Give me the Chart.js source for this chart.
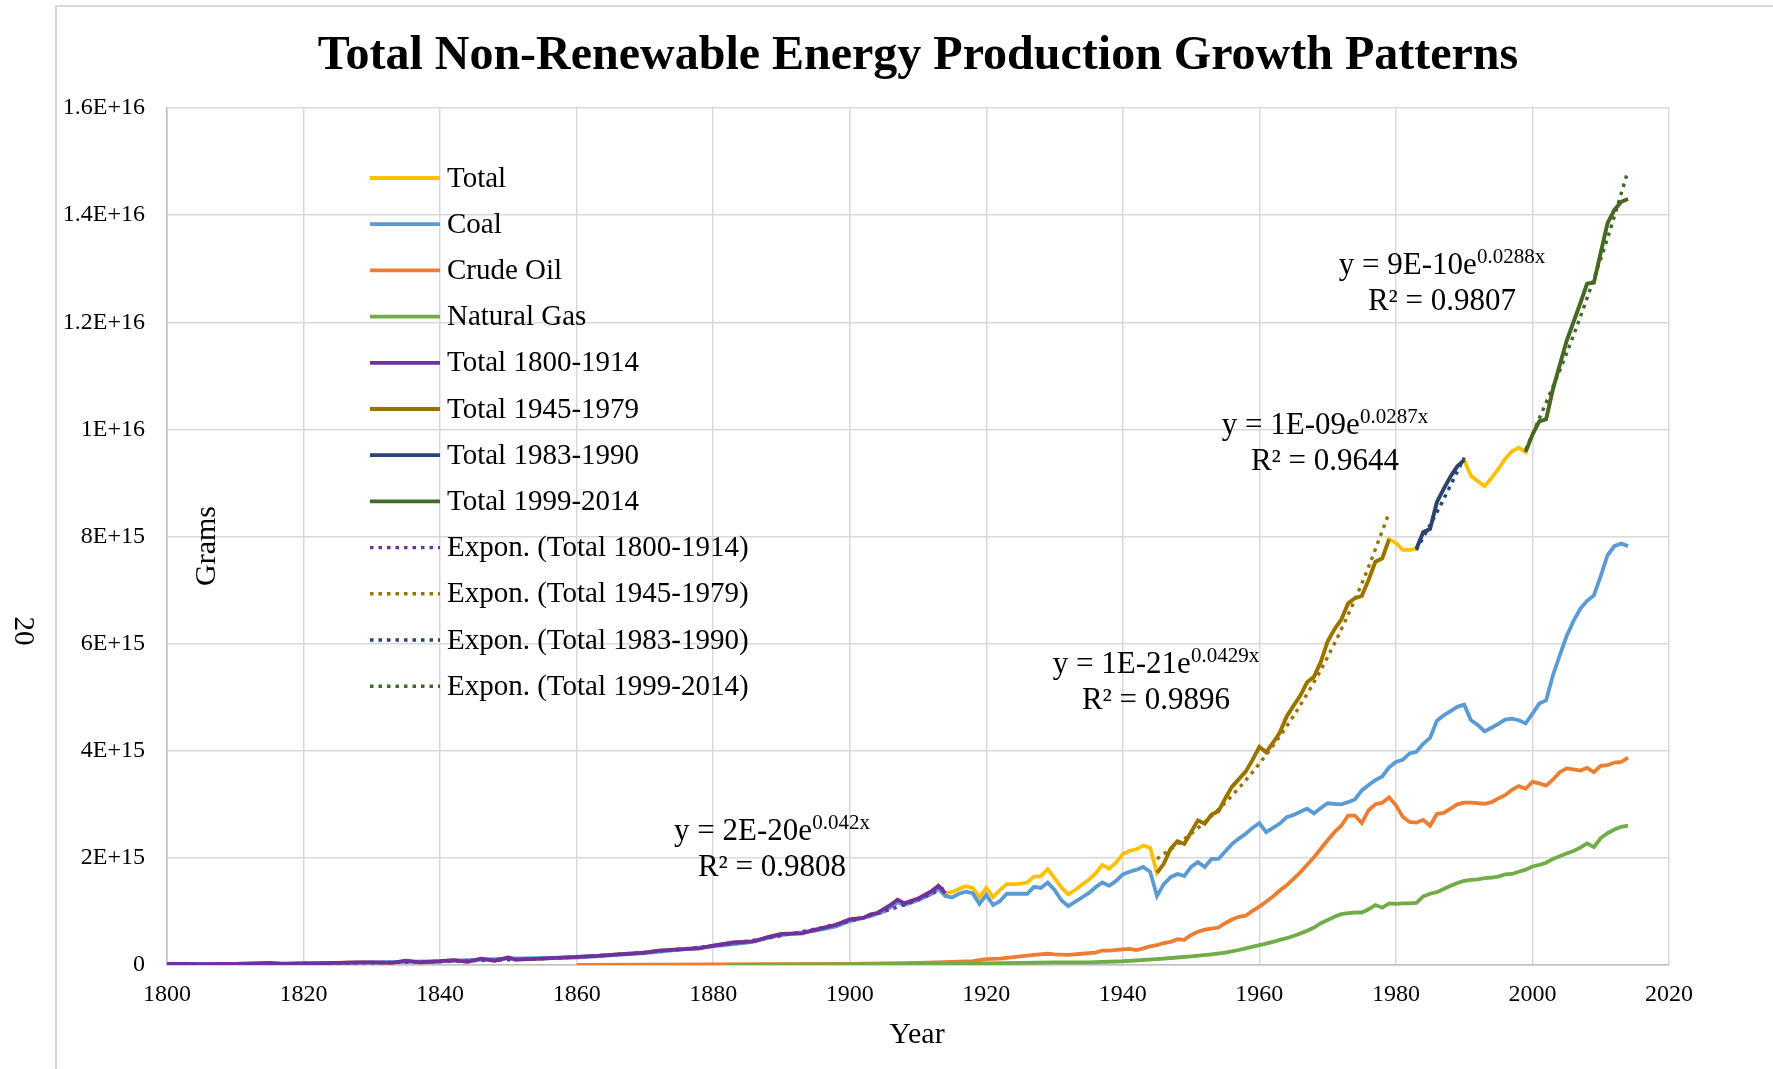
<!DOCTYPE html>
<html lang="en">
<head>
<meta charset="UTF-8">
<title>Total Non-Renewable Energy Production Growth Patterns</title>
<script src="https://cdn.jsdelivr.net/npm/chart.js"></script>
<style>
  html, body { margin: 0; padding: 0; background: #fff; }
  #wrap { position: relative; width: 1773px; height: 1069px; }
</style>
</head>
<body>
<div id="wrap"><canvas id="energyChart"></canvas></div>
<script>
// all values are in units of 1E+15 grams
const earlyYears = [1800, 1803, 1805, 1808, 1810, 1813, 1815, 1817, 1820, 1822, 1825, 1828, 1830, 1833, 1835, 1837,
    1840, 1842, 1844, 1846, 1848, 1850, 1851, 1855, 1860, 1863, 1866, 1870, 1872, 1875, 1878, 1880, 1883, 1886,
    1888, 1890, 1893, 1895, 1898, 1900, 1902, 1903, 1904, 1906, 1907, 1908, 1910, 1912, 1913];
const earlyTotal = [0.02, 0.02, 0.01, 0.02, 0.02, 0.03, 0.04, 0.02, 0.03, 0.03, 0.04, 0.05, 0.05, 0.04, 0.08, 0.05,
    0.07, 0.09, 0.06, 0.12, 0.08, 0.14, 0.10, 0.12, 0.15, 0.17, 0.20, 0.23, 0.27, 0.29, 0.31, 0.36, 0.42, 0.44,
    0.52, 0.58, 0.59, 0.66, 0.75, 0.85, 0.88, 0.94, 0.97, 1.12, 1.22, 1.15, 1.24, 1.38, 1.48];

const annualYears = [1914, 1915, 1916, 1917, 1918, 1919, 1920, 1921, 1922, 1923, 1924, 1925, 1926, 1927, 1928, 1929,
    1930, 1931, 1932, 1933, 1934, 1935, 1936, 1937, 1938, 1939, 1940, 1941, 1942, 1943, 1944, 1945, 1946, 1947,
    1948, 1949, 1950, 1951, 1952, 1953, 1954, 1955, 1956, 1957, 1958, 1959, 1960, 1961, 1962, 1963, 1964, 1965,
    1966, 1967, 1968, 1969, 1970, 1971, 1972, 1973, 1974, 1975, 1976, 1977, 1978, 1979, 1980, 1981, 1982, 1983,
    1984, 1985, 1986, 1987, 1988, 1989, 1990, 1991, 1992, 1993, 1994, 1995, 1996, 1997, 1998, 1999, 2000, 2001,
    2002, 2003, 2004, 2005, 2006, 2007, 2008, 2009, 2010, 2011, 2012, 2013, 2014];

const annualTotal = [1.34, 1.36, 1.42, 1.47, 1.44, 1.27, 1.44, 1.27, 1.40, 1.51, 1.51, 1.52, 1.54, 1.65, 1.66, 1.79,
    1.62, 1.45, 1.32, 1.40, 1.50, 1.59, 1.71, 1.87, 1.80, 1.91, 2.07, 2.13, 2.16, 2.23, 2.19, 1.72, 1.89, 2.17,
    2.31, 2.26, 2.48, 2.70, 2.64, 2.81, 2.87, 3.11, 3.33, 3.47, 3.61, 3.83, 4.07, 3.97, 4.15, 4.34, 4.64, 4.84,
    5.03, 5.28, 5.38, 5.66, 6.04, 6.27, 6.45, 6.75, 6.85, 6.89, 7.19, 7.53, 7.59, 7.95, 7.88, 7.75, 7.75, 7.77,
    8.08, 8.14, 8.64, 8.89, 9.12, 9.31, 9.43, 9.13, 9.03, 8.94, 9.09, 9.26, 9.45, 9.59, 9.66, 9.58, 9.90, 10.15,
    10.19, 10.75, 11.20, 11.65, 12.00, 12.35, 12.72, 12.74, 13.30, 13.85, 14.10, 14.25, 14.30];

const coalEarlyYears = [1800, 1810, 1820, 1830, 1840, 1850, 1860, 1870, 1880, 1885, 1890, 1895, 1898, 1900, 1903,
    1905, 1906, 1907, 1908, 1910, 1912, 1913];
const coalEarly = [0.02, 0.02, 0.03, 0.05, 0.07, 0.12, 0.14, 0.22, 0.35, 0.42, 0.56, 0.64, 0.72, 0.82, 0.91,
    1.00, 1.08, 1.17, 1.12, 1.21, 1.33, 1.42];
const coalAnnual = [1.29, 1.26, 1.33, 1.37, 1.34, 1.14, 1.31, 1.12, 1.19, 1.33, 1.33, 1.33, 1.33, 1.46, 1.44, 1.54,
    1.40, 1.21, 1.10, 1.18, 1.26, 1.34, 1.45, 1.54, 1.48, 1.57, 1.69, 1.74, 1.78, 1.83, 1.74, 1.29, 1.51, 1.64,
    1.70, 1.66, 1.83, 1.92, 1.83, 1.98, 1.98, 2.12, 2.26, 2.36, 2.45, 2.56, 2.65, 2.48, 2.56, 2.64, 2.76, 2.80,
    2.86, 2.92, 2.83, 2.93, 3.02, 3.01, 3.00, 3.04, 3.09, 3.26, 3.36, 3.45, 3.52, 3.69, 3.79, 3.83, 3.95, 3.98,
    4.13, 4.24, 4.56, 4.66, 4.74, 4.82, 4.86, 4.57, 4.48, 4.36, 4.43, 4.50, 4.58, 4.60, 4.57, 4.51, 4.69, 4.88,
    4.94, 5.41, 5.78, 6.14, 6.42, 6.65, 6.80, 6.90, 7.26, 7.65, 7.82, 7.87, 7.82];

const oilEarlyYears = [1860, 1870, 1880, 1890, 1900, 1905, 1910, 1915, 1918, 1920, 1922, 1925, 1927, 1929, 1930,
    1932, 1934, 1936, 1937, 1938];
const oilEarly = [0, 0.005, 0.01, 0.015, 0.02, 0.03, 0.04, 0.06, 0.07, 0.11, 0.12, 0.16, 0.19, 0.21, 0.20,
    0.19, 0.21, 0.23, 0.27, 0.27];
// crude oil, yearly from 1940
const oilAnnual = [0.29, 0.30, 0.28, 0.31, 0.35, 0.37, 0.41, 0.43, 0.48, 0.47, 0.56, 0.62, 0.66, 0.68, 0.70, 0.78,
    0.85, 0.90, 0.92, 1.01, 1.09, 1.18, 1.28, 1.39, 1.49, 1.61, 1.73, 1.87, 2.01, 2.17, 2.33, 2.48, 2.60, 2.79,
    2.79, 2.65, 2.89, 3.00, 3.03, 3.13, 2.98, 2.77, 2.67, 2.66, 2.71, 2.60, 2.82, 2.84, 2.92, 3.00, 3.03, 3.03,
    3.02, 3.01, 3.04, 3.11, 3.17, 3.27, 3.34, 3.29, 3.42, 3.39, 3.35, 3.46, 3.60, 3.67, 3.65, 3.63, 3.68, 3.60,
    3.72, 3.73, 3.78, 3.79, 3.87];

const gasEarlyYears = [1882, 1890, 1900, 1910, 1920, 1925, 1930, 1935, 1940, 1945, 1948, 1950, 1953, 1955, 1957, 1958];
const gasEarly = [0, 0.005, 0.01, 0.02, 0.03, 0.04, 0.05, 0.05, 0.07, 0.11, 0.14, 0.16, 0.20, 0.23, 0.28, 0.31];
// natural gas, yearly from 1960
const gasAnnual = [0.37, 0.40, 0.43, 0.47, 0.50, 0.54, 0.59, 0.64, 0.70, 0.78, 0.84, 0.90, 0.95, 0.97, 0.98, 0.98,
    1.04, 1.12, 1.07, 1.15, 1.14, 1.15, 1.15, 1.16, 1.28, 1.33, 1.36, 1.42, 1.48, 1.53, 1.57, 1.59, 1.60, 1.62,
    1.63, 1.65, 1.69, 1.70, 1.74, 1.78, 1.84, 1.87, 1.91, 1.98, 2.03, 2.08, 2.13, 2.19, 2.27, 2.20, 2.37, 2.46,
    2.53, 2.58, 2.60];

// exponential trendlines
const trendAYears = [1800, 1820, 1840, 1860, 1880, 1890, 1900, 1905, 1910, 1914];
const trendAVals = [0.012, 0.028, 0.066, 0.15, 0.36, 0.55, 0.82, 1.0, 1.22, 1.45];
const trendBYears = [1945, 1950, 1955, 1960, 1965, 1970, 1975, 1979];
const trendBVals = [1.98, 2.45, 3.03, 3.76, 4.65, 5.75, 7.12, 8.44];
const trendCYears = [1983, 1986, 1990];
const trendCVals = [7.75, 8.45, 9.47];
const trendDYears = [1999, 2002, 2005, 2008, 2011, 2014];
const trendDVals = [9.62, 10.5, 11.42, 12.45, 13.57, 14.83];

const seriesNames = ['Total', 'Coal', 'Crude Oil', 'Natural Gas', 'Total 1800-1914', 'Total 1945-1979',
    'Total 1983-1990', 'Total 1999-2014', 'Expon. (Total 1800-1914)', 'Expon. (Total 1945-1979)',
    'Expon. (Total 1983-1990)', 'Expon. (Total 1999-2014)'];
const segmentRanges = [[1800, 1914], [1945, 1979], [1983, 1990], [1999, 2014]];

const eqBase = ['y = 2E-20e', 'y = 1E-21e', 'y = 1E-09e', 'y = 9E-10e'];
const eqSup = ['0.042x', '0.0429x', '0.0287x', '0.0288x'];
const eqR2 = ['R\u00B2 = 0.9808', 'R\u00B2 = 0.9896', 'R\u00B2 = 0.9644', 'R\u00B2 = 0.9807'];

const yTickLabels = { 0: '0', 2: '2E+15', 4: '4E+15', 6: '6E+15', 8: '8E+15', 10: '1E+16', 12: '1.2E+16', 14: '1.4E+16', 16: '1.6E+16' };

const serif = '"Liberation Serif", "Times New Roman", serif';

function pts(years, vals) {
    return years.map((yr, i) => ({ x: yr, y: vals[i] }));
}

const totalPts = pts(earlyYears, earlyTotal).concat(pts(annualYears, annualTotal));
const coalPts = pts(coalEarlyYears, coalEarly).concat(pts(annualYears, coalAnnual));
const oilPts = pts(oilEarlyYears, oilEarly).concat(pts(annualYears.slice(26), oilAnnual));
const gasPts = pts(gasEarlyYears, gasEarly).concat(pts(annualYears.slice(46), gasAnnual));
const segment = r => totalPts.filter(p => p.x >= r[0] && p.x <= r[1]);

const colors = ['#FFC000', '#5B9BD5', '#ED7D31', '#70AD47', '#7030A0', '#997300', '#264478', '#43682B'];
const dots = [3.5, 5];

const seriesData = [totalPts, coalPts, oilPts, gasPts].concat(segmentRanges.map(segment)).concat([
    pts(trendAYears, trendAVals), pts(trendBYears, trendBVals), pts(trendCYears, trendCVals), pts(trendDYears, trendDVals)
]);

const datasets = seriesData.map((data, i) => {
    const isTrend = i >= 8;
    return {
        label: seriesNames[i],
        data: data,
        borderColor: isTrend ? colors[i - 4] : colors[i],
        borderWidth: isTrend ? 3.4 : 3.8,
        borderDash: isTrend ? dots : [],
        tension: isTrend ? 0.4 : 0,
        cubicInterpolationMode: isTrend ? 'monotone' : 'default',
        pointRadius: 0,
        fill: false,
        order: 20 - i
    };
});

// title, axis titles, legend and equations drawn on the canvas
const overlay = {
    id: 'overlay',
    afterDraw(chart) {
        const ctx = chart.ctx;
        ctx.save();

        ctx.strokeStyle = '#d9d9d9';
        ctx.lineWidth = 2;
        ctx.beginPath();
        ctx.moveTo(56, 1069);
        ctx.lineTo(56, 6);
        ctx.lineTo(1773, 6);
        ctx.stroke();

        ctx.fillStyle = '#000';
        ctx.textAlign = 'center';
        ctx.textBaseline = 'middle';
        ctx.font = 'bold 48px ' + serif;
        ctx.fillText('Total Non-Renewable Energy Production Growth Patterns', 918, 57);

        ctx.font = '30px ' + serif;
        ctx.fillText('Year', 917, 1035);

        ctx.save();
        ctx.translate(207, 546);
        ctx.rotate(-Math.PI / 2);
        ctx.fillText('Grams', 0, 0);
        ctx.restore();

        ctx.save();
        ctx.font = '29px ' + serif;
        ctx.translate(23, 631);
        ctx.rotate(Math.PI / 2);
        ctx.fillText('20', 0, 0);
        ctx.restore();

        // legend
        ctx.textAlign = 'left';
        ctx.font = '29px ' + serif;
        chart.data.datasets.forEach((ds, i) => {
            const y = 178 + i * 46.2;
            ctx.save();
            ctx.strokeStyle = ds.borderColor;
            ctx.lineWidth = ds.borderWidth;
            ctx.setLineDash(ds.borderDash);
            ctx.beginPath();
            ctx.moveTo(370, y);
            ctx.lineTo(440, y);
            ctx.stroke();
            ctx.restore();
            ctx.fillText(ds.label, 447, y + 1);
        });

        // trendline equations
        const eqPos = [[772, 840], [1156, 673], [1325, 434], [1442, 274]];
        ctx.textBaseline = 'alphabetic';
        eqPos.forEach((p, i) => {
            ctx.font = '31px ' + serif;
            const wb = ctx.measureText(eqBase[i]).width;
            ctx.font = '21px ' + serif;
            const ws = ctx.measureText(eqSup[i]).width;
            const x0 = p[0] - (wb + ws) / 2;
            ctx.textAlign = 'left';
            ctx.font = '31px ' + serif;
            ctx.fillText(eqBase[i], x0, p[1]);
            ctx.font = '21px ' + serif;
            ctx.fillText(eqSup[i], x0 + wb, p[1] - 11);
            ctx.textAlign = 'center';
            ctx.font = '31px ' + serif;
            ctx.fillText(eqR2[i], p[0], p[1] + 36);
        });

        ctx.restore();
    }
};

new Chart(document.getElementById('energyChart'), {
    type: 'line',
    data: { datasets: datasets },
    options: {
        responsive: true,
        maintainAspectRatio: false,
        animation: false,
        layout: { padding: { top: 108, right: 104, bottom: 0, left: 0 } },
        plugins: {
            legend: { display: false },
            title: { display: false },
            tooltip: { enabled: false }
        },
        scales: {
            x: {
                type: 'linear',
                min: 1800,
                max: 2020,
                ticks: {
                    stepSize: 20,
                    padding: 15,
                    color: '#000',
                    font: { family: serif, size: 24 },
                    callback: v => String(v)
                },
                grid: { color: '#d9d9d9', lineWidth: 1.5, drawTicks: false },
                border: { color: '#bfbfbf', width: 1.5 },
                afterFit: s => { s.height = 104; }
            },
            y: {
                min: 0,
                max: 16,
                ticks: {
                    stepSize: 2,
                    padding: 22,
                    color: '#000',
                    font: { family: serif, size: 24 },
                    callback: v => yTickLabels[v]
                },
                grid: { color: '#d9d9d9', lineWidth: 1.5, drawTicks: false },
                border: { color: '#bfbfbf', width: 1.5 },
                afterFit: s => { s.width = 167; }
            }
        }
    },
    plugins: [overlay]
});
</script>
</body>
</html>
